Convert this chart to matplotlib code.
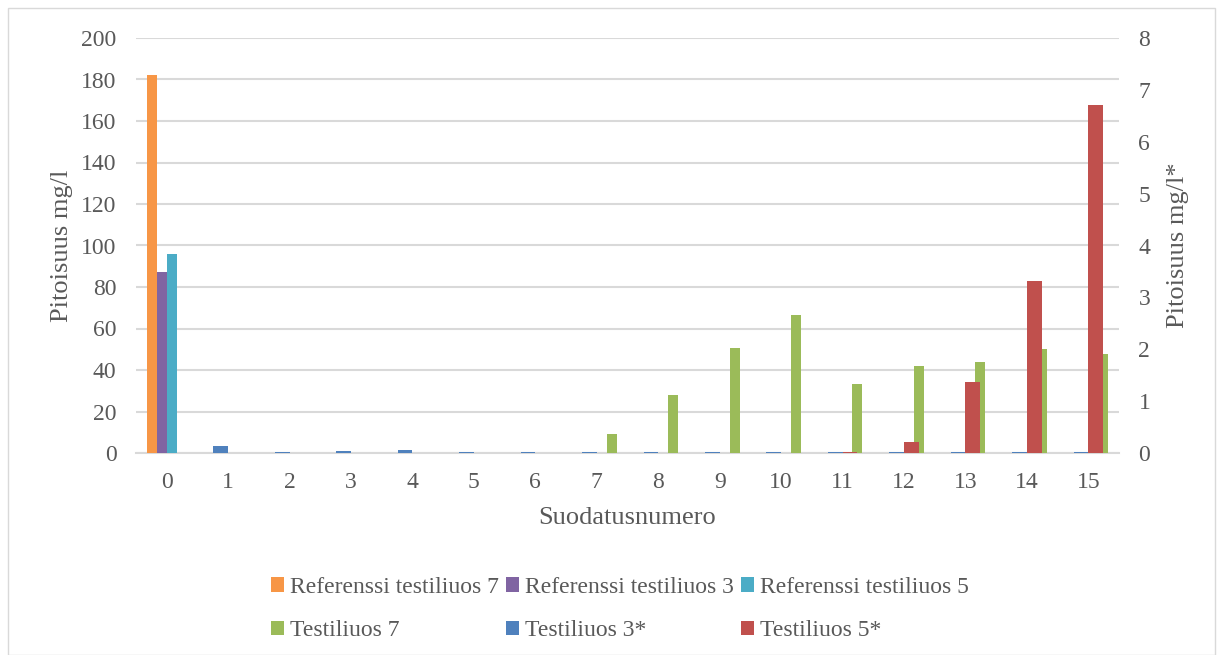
import matplotlib
matplotlib.use("Agg")
import matplotlib.pyplot as plt
import numpy as np
from matplotlib.patches import Rectangle

categories = [str(i) for i in range(16)]

# Primary axis series (mg/l)
ref_7 = [182.2] + [0] * 15
ref_3 = [87.2] + [0] * 15
ref_5 = [95.9] + [0] * 15
test_7 = [0, 0, 0, 0, 0, 0, 0, 9.0, 28.1, 50.7, 66.7, 33.3, 41.9, 43.9, 50.0, 47.6]

# Secondary axis series (mg/l*)
test_3s = [0, 0.13, 0.01, 0.03, 0.06, 0.02, 0.01, 0.02, 0.02, 0.01, 0.01, 0.01, 0.02, 0.02, 0.02, 0.02]
test_5s = [0, 0, 0, 0, 0, 0, 0, 0, 0, 0, 0, 0.01, 0.21, 1.37, 3.32, 6.71]

left_ticks = [0, 20, 40, 60, 80, 100, 120, 140, 160, 180, 200]
right_ticks = [0, 1, 2, 3, 4, 5, 6, 7, 8]

C_ORANGE = "#F79646"
C_PURPLE = "#8064A2"
C_TEAL = "#4BACC6"
C_GREEN = "#9BBB59"
C_BLUE = "#4F81BD"
C_RED = "#C0504D"
TXT = "#595959"
GRID = "#D9D9D9"

plt.rcParams["font.family"] = ["Liberation Serif", "DejaVu Serif"]

W, H = 1223, 655
fig = plt.figure(figsize=(W / 100, H / 100), dpi=100)
fig.patches.append(Rectangle((8 / W, 0), (1215 - 8) / W, (H - 8) / H, transform=fig.transFigure,
                             fill=False, edgecolor="#D9D9D9", linewidth=1.0))

x0, x1, y0, y1 = 136, 1119, 453, 38
ax1 = fig.add_axes([x0 / W, 1 - y0 / H, (x1 - x0) / W, (y0 - y1) / H])
ax2 = ax1.twinx()

x = np.arange(len(categories))
w = 1 / 6.19
ws = 1 / 4.19

ax1.bar(x - 2 * w, ref_7, w, align="edge", color=C_ORANGE, zorder=3, label="Referenssi testiliuos 7")
ax1.bar(x - w, ref_3, w, align="edge", color=C_PURPLE, zorder=3, label="Referenssi testiliuos 3")
ax1.bar(x, ref_5, w, align="edge", color=C_TEAL, zorder=3, label="Referenssi testiliuos 5")
ax1.bar(x + w, test_7, w, align="edge", color=C_GREEN, zorder=3, label="Testiliuos 7")

ax2.bar(x - ws, test_3s, ws, align="edge", color=C_BLUE, zorder=3, label="Testiliuos 3*")
ax2.bar(x, test_5s, ws, align="edge", color=C_RED, zorder=3, label="Testiliuos 5*")

ax1.set_xlim(-0.5, len(categories) - 0.5)
ax1.set_ylim(0, 200)
ax2.set_ylim(0, 8)
ax1.set_yticks(left_ticks)
ax2.set_yticks(right_ticks)
ax1.set_xticks(x)
ax1.set_xticklabels(categories)

ax1.set_axisbelow(True)
ax1.yaxis.grid(True, color=GRID, linewidth=1.5, zorder=0)
for ax in (ax1, ax2):
    for s in ax.spines.values():
        s.set_visible(False)
ax1.spines["bottom"].set_visible(True)
ax1.spines["bottom"].set_color(GRID)
ax1.spines["bottom"].set_linewidth(1.5)

ax1.tick_params(axis="y", length=0, pad=14, labelsize=17, labelcolor=TXT)
ax2.tick_params(axis="y", length=0, pad=14, labelsize=17, labelcolor=TXT)
ax1.tick_params(axis="x", length=0, pad=14, labelsize=17, labelcolor=TXT)

ax1.set_ylabel("Pitoisuus mg/l", fontsize=19, color=TXT, labelpad=6)
ax2.set_ylabel("Pitoisuus mg/l*", fontsize=19, color=TXT, labelpad=12)
ax1.set_xlabel("Suodatusnumero", fontsize=19, color=TXT, labelpad=10)

h1, l1 = ax1.get_legend_handles_labels()
h2, l2 = ax2.get_legend_handles_labels()
hd = dict(zip(l1 + l2, h1 + h2))
order = ["Referenssi testiliuos 7", "Testiliuos 7",
         "Referenssi testiliuos 3", "Testiliuos 3*",
         "Referenssi testiliuos 5", "Testiliuos 5*"]
leg = fig.legend([hd[k] for k in order], order, ncol=3, loc="center",
                 bbox_to_anchor=(620 / W, 1 - 609 / H), frameon=False,
                 fontsize=17, labelcolor=TXT, handlelength=0.55, handleheight=0.55,
                 handletextpad=0.25, columnspacing=0.3, labelspacing=0.95)

fig.savefig("out.png", dpi=100)
